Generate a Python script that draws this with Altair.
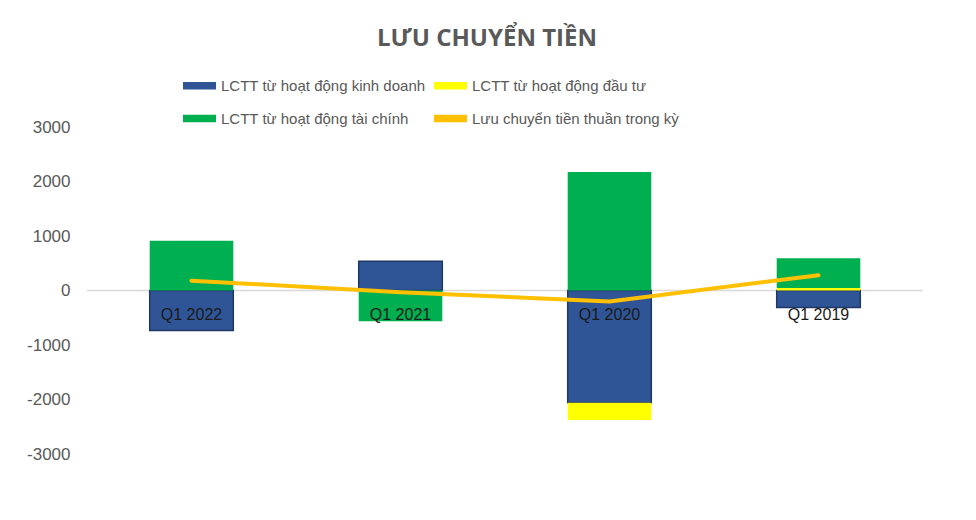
import altair as alt
import pandas as pd

categories = ["Q1 2022", "Q1 2021", "Q1 2020", "Q1 2019"]
series_names = [
    "LCTT từ hoạt động kinh doanh",
    "LCTT từ hoạt động đầu tư",
    "LCTT từ hoạt động tài chính",
    "Lưu chuyển tiền thuần trong kỳ",
]
kinh_doanh = [-735, 535, -2060, -310]
dau_tu = [0, 0, -315, 45]
tai_chinh = [915, -565, 2175, 545]
thuan = [180, -30, -200, 280]
y_ticks = [-3000, -2000, -1000, 0, 1000, 2000, 3000]
colors = ["#2F5597", "#FFFF00", "#00B050", "#FFC000"]

rows = []
for i, c in enumerate(categories):
    for j, vals in enumerate([kinh_doanh, dau_tu, tai_chinh]):
        rows.append({"cat": c, "series": series_names[j], "value": vals[i], "ord": j})
bars_df = pd.DataFrame(rows)
line_df = pd.DataFrame({"cat": categories, "value": thuan})
zero_df = pd.DataFrame({"y": [0]})

xenc = alt.X("cat:N", sort=categories,
             scale=alt.Scale(paddingInner=0.6, paddingOuter=0.3), axis=None)
yscale = alt.Scale(domain=[-3000, 3000], nice=False, zero=False)
yaxis = alt.Axis(values=y_ticks, labelExpr="'' + datum.value", domain=False,
                 ticks=False, grid=False, title=None, labelFontSize=17,
                 labelColor="#595959", labelFont="Liberation Sans", labelPadding=17)

zero_rule = alt.Chart(zero_df).mark_rule(color="#D9D9D9", strokeWidth=1.5).encode(
    y=alt.Y("y:Q", scale=yscale, axis=yaxis)
)

legend = alt.Legend(
    title=None, orient="none", legendX=96, legendY=-58, direction="horizontal",
    columns=2, columnPadding=8, rowPadding=8,
    symbolType="M-1,-0.22H1V0.22H-1Z", symbolSize=1089, symbolStrokeWidth=0,
    labelFont="Liberation Sans", labelFontSize=15, labelColor="#595959",
    labelOffset=5, labelLimit=400,
)

bars = alt.Chart(bars_df).mark_bar(strokeWidth=1.5).encode(
    x=xenc,
    y=alt.Y("value:Q", scale=yscale, axis=yaxis, stack="zero"),
    color=alt.Color("series:N", scale=alt.Scale(domain=series_names, range=colors),
                    legend=legend),
    order=alt.Order("ord:Q"),
    stroke=alt.condition(alt.datum.series == series_names[0],
                         alt.value("#1F3864"), alt.value("transparent")),
)

line = alt.Chart(line_df).mark_line(color="#FFC000", strokeWidth=4,
                                    strokeCap="round", strokeJoin="round").encode(
    x=xenc,
    y=alt.Y("value:Q", scale=yscale, axis=yaxis),
)

labels = alt.Chart(line_df).mark_text(dy=24, fontSize=16, font="Liberation Sans",
                                      color="#1a1a1a", baseline="middle").encode(
    x=xenc,
    y=alt.datum(0),
    text="cat:N",
)

chart = alt.layer(zero_rule, bars, line, labels).properties(
    width=836,
    height=327,
    autosize=alt.AutoSizeParams(type="none"),
    padding={"left": 79, "top": 119, "right": 45, "bottom": 58},
    title=alt.TitleParams(
        text="LƯU CHUYỂN TIỀN", anchor="middle", font="Open Sans", fontSize=24,
        fontWeight="bold", color="#595959", offset=18, dx=-18,
    ),
    background="white",
).configure_view(stroke=None)

chart.save("out.html", embed_options={"renderer": "svg", "actions": False})
